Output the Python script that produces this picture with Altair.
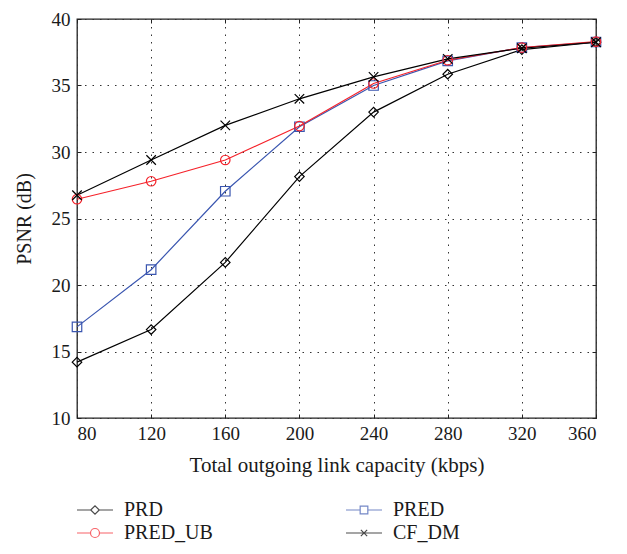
import altair as alt
import pandas as pd

capacity = [80, 120, 160, 200, 240, 280, 320, 360]
series_names = ["PRD", "PRED", "PRED_UB", "CF_DM"]
prd = [14.2, 16.65, 21.7, 28.15, 33.0, 35.85, 37.7, 38.25]
pred = [16.85, 21.15, 27.05, 31.9, 35.0, 36.85, 37.85, 38.27]
pred_ub = [26.45, 27.8, 29.4, 31.95, 35.15, 36.9, 37.85, 38.3]
cf_dm = [26.75, 29.4, 32.0, 34.0, 35.65, 37.0, 37.8, 38.25]
x_ticks = [80, 120, 160, 200, 240, 280, 320, 360]
y_ticks = [10, 15, 20, 25, 30, 35, 40]

colors = ["#000000", "#3a56b0", "#f5222a", "#000000"]
shapes = ["diamond", "square", "circle", "M-1,-1L1,1M-1,1L1,-1"]

# legend entries (column-major order as the legend lays them out)
legend_order = ["PRD", "PRED_UB", "PRED", "CF_DM"]
legend_colors = ["#000000", "#f5222a", "#3a56b0", "#000000"]
legend_shapes = [
    "M-4,0L-0.95,0M0.95,0L4,0M-0.95,0L0,-0.95L0.95,0L0,0.95Z",
    "M-4,0L-1,0M1,0L4,0M-1,0A1,1,0,1,1,1,0A1,1,0,1,1,-1,0Z",
    "M-4,0L-0.85,0M0.85,0L4,0M-0.85,-0.85L0.85,-0.85L0.85,0.85L-0.85,0.85Z",
    "M-4,0L4,0M-0.7,-0.7L0.7,0.7M-0.7,0.7L0.7,-0.7",
]

rows = []
for name, vals in zip(series_names, [prd, pred, pred_ub, cf_dm]):
    for c, v in zip(capacity, vals):
        rows.append({"capacity": c, "psnr": v, "series": name})
df = pd.DataFrame(rows)

FONT = "Liberation Serif"
TXT = "#1a1a1a"
W, H = 519, 399

xscale = alt.Scale(domain=[80, 360], nice=False, zero=False)
yscale = alt.Scale(domain=[10, 40], nice=False, zero=False)
cscale = alt.Scale(domain=series_names, range=colors)

base = alt.Chart(df)

lines = base.mark_line(strokeWidth=1.2).encode(
    x=alt.X(
        "capacity:Q",
        scale=xscale,
        axis=alt.Axis(
            values=x_ticks,
            title="Total outgoing link capacity (kbps)",
            orient="bottom",
            offset=-4,
            tickSize=4,
            tickColor="#222",
            domain=False,
            grid=True,
            gridColor="#333",
            gridDash=[1.5, 6],
            gridWidth=1,
            labelPadding=6,
            labelFont=FONT,
            labelFontSize=19,
            labelColor=TXT,
            titleFont=FONT,
            titleFontSize=21,
            titleFontWeight="normal",
            titleColor=TXT,
            titlePadding=11,
        ),
    ),
    y=alt.Y(
        "psnr:Q",
        scale=yscale,
        axis=alt.Axis(
            values=y_ticks,
            title="PSNR (dB)",
            orient="left",
            offset=-4,
            tickSize=4,
            tickColor="#222",
            domain=False,
            grid=True,
            gridColor="#333",
            gridDash=[1.5, 6],
            gridWidth=1,
            labelPadding=7,
            labelFont=FONT,
            labelFontSize=19,
            labelColor=TXT,
            titleFont=FONT,
            titleFontSize=20,
            titleFontWeight="normal",
            titleColor=TXT,
            titlePadding=17,
            titleY=H / 2,
        ),
    ),
    color=alt.Color("series:N", scale=cscale, legend=None),
    order=alt.Order("capacity:Q"),
)

points = base.mark_point(filled=False, size=90, strokeWidth=1.2, opacity=1).encode(
    x=alt.X(
        "capacity:Q",
        scale=xscale,
        axis=alt.Axis(
            values=x_ticks, orient="top", offset=-4, tickSize=4, tickColor="#222",
            labels=False, title=None, domain=False, grid=False,
        ),
    ),
    y=alt.Y(
        "psnr:Q",
        scale=yscale,
        axis=alt.Axis(
            values=y_ticks, orient="right", offset=-4, tickSize=4, tickColor="#222",
            labels=False, title=None, domain=False, grid=False,
        ),
    ),
    color=alt.Color("series:N", scale=cscale, legend=None),
    shape=alt.Shape("series:N", scale=alt.Scale(domain=series_names, range=shapes), legend=None),
)

legend_kw = dict(
    title=None,
    orient="none",
    legendX=8,
    legendY=481,
    columns=2,
    columnPadding=130,
    rowPadding=3,
    symbolSize=81,
    symbolStrokeWidth=1.2,
    labelOffset=19,
    labelFont=FONT,
    labelFontSize=20,
    labelColor=TXT,
    padding=0,
)

legend_layer = (
    base.transform_filter("false")
    .mark_point(filled=False, size=81, strokeWidth=1.2)
    .encode(
        x=alt.X("capacity:Q", scale=xscale, axis=None),
        y=alt.Y("psnr:Q", scale=yscale, axis=None),
        color=alt.Color(
            "series:N",
            scale=alt.Scale(domain=legend_order, range=legend_colors),
            legend=alt.Legend(**legend_kw),
        ),
        shape=alt.Shape(
            "series:N",
            scale=alt.Scale(domain=legend_order, range=legend_shapes),
            legend=alt.Legend(**legend_kw),
        ),
    )
)

chart = (
    alt.layer(lines, points, legend_layer)
    .resolve_axis(x="independent", y="independent")
    .resolve_scale(color="independent", shape="independent")
    .properties(
        width=W,
        height=H,
        autosize=alt.AutoSizeParams(type="none"),
        padding={"left": 69, "top": 11, "right": 23, "bottom": 128},
        background="white",
    )
    .configure_view(stroke="#222", strokeWidth=1.3)
)

chart.save("out.html", embed_options={"renderer": "svg", "actions": False})
